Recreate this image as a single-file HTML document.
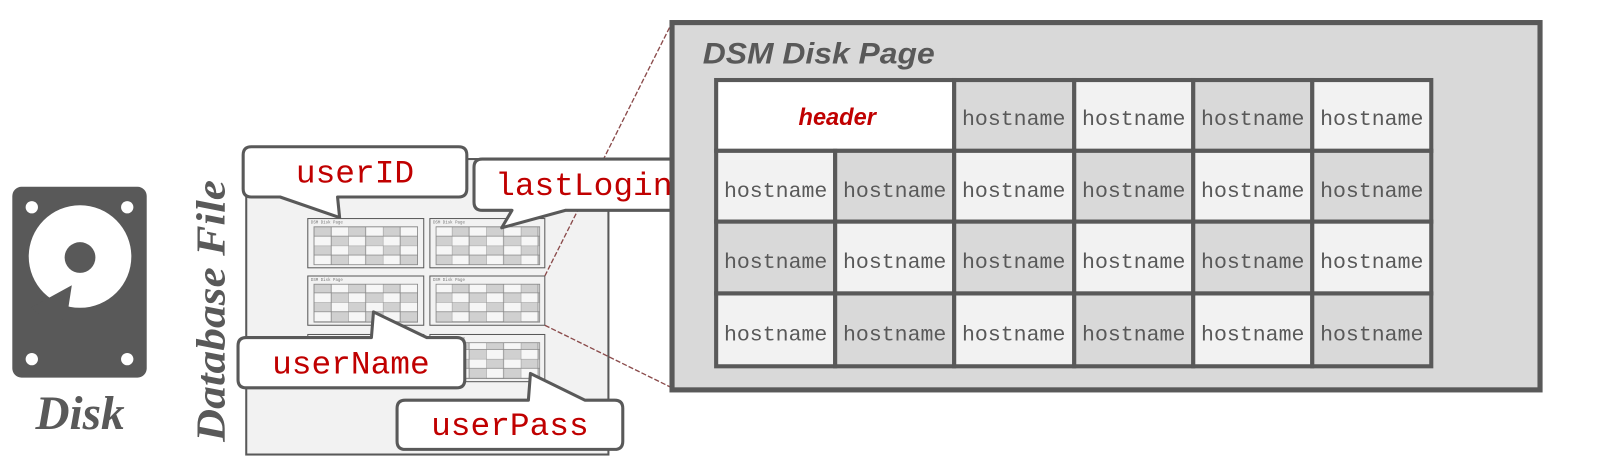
<!DOCTYPE html>
<html><head><meta charset="utf-8"><style>
html,body{margin:0;padding:0;background:#fff;width:1606px;height:461px;overflow:hidden}
svg{display:block}
.h{font-family:"Liberation Mono",monospace;font-size:21px;fill:#595959}
.c{font-family:"Liberation Mono",monospace;font-size:32px;fill:#c00000}
.co{fill:#fff;stroke:#595959;stroke-width:3;stroke-linejoin:round}
</style></head><body>
<svg width="1606" height="461" viewBox="0 0 1565.3 449.3" xmlns="http://www.w3.org/2000/svg">
<defs>
<pattern id="mg" x="306" y="221" width="33.6" height="18.4" patternUnits="userSpaceOnUse">
<rect width="16.8" height="9.2" fill="#d0d0d0"/><rect x="16.8" width="16.8" height="9.2" fill="#f6f6f6"/>
<rect y="9.2" width="16.8" height="9.2" fill="#f6f6f6"/><rect x="16.8" y="9.2" width="16.8" height="9.2" fill="#d0d0d0"/>
<path d="M0,0H33.6M0,9.2H33.6M0,0V18.4M16.8,0V18.4" stroke="#888" stroke-width="0.8" fill="none"/>
</pattern>
</defs>
<!-- disk -->
<rect x="12" y="182" width="131" height="186" rx="9" fill="#595959"/>
<circle cx="31" cy="202" r="6" fill="#fff"/><circle cx="124" cy="202" r="6" fill="#fff"/>
<circle cx="31" cy="350" r="6" fill="#fff"/><circle cx="124" cy="350" r="6" fill="#fff"/>
<circle cx="78" cy="250" r="50" fill="#fff"/>
<circle cx="78" cy="251" r="15" fill="#595959"/>
<polygon points="30,300 70,278 66,304 55,320" fill="#595959"/>
<text x="78" y="418" text-anchor="middle" font-family="Liberation Serif,serif" font-weight="bold" font-style="italic" font-size="46" fill="#595959">Disk</text>
<text transform="translate(219,303) rotate(-90)" text-anchor="middle" font-family="Liberation Serif,serif" font-weight="bold" font-style="italic" font-size="40" fill="#595959" textLength="255" lengthAdjust="spacingAndGlyphs">Database File</text>
<!-- db file -->
<rect x="240" y="155" width="353" height="288" fill="#f2f2f2" stroke="#595959" stroke-width="2"/>
<g fill="#f2f2f2" stroke="#595959" stroke-width="1">
<rect x="300" y="213" width="113" height="48"/><rect x="419" y="213" width="112" height="48"/>
<rect x="300" y="269" width="113" height="48"/><rect x="419" y="269" width="112" height="48"/>
<rect x="300" y="326" width="113" height="46"/><rect x="419" y="326" width="112" height="46"/>
</g>
<g font-family="Liberation Mono,monospace" font-size="4" fill="#777">
<text x="303" y="218">DSM Disk Page</text><text x="422" y="218">DSM Disk Page</text>
<text x="303" y="274">DSM Disk Page</text><text x="422" y="274">DSM Disk Page</text>
<text x="303" y="331">DSM Disk Page</text><text x="422" y="331">DSM Disk Page</text>
</g>
<g fill="url(#mg)" stroke="#888" stroke-width="0.8">
<rect x="306" y="221" width="101" height="37"/><rect x="425" y="221" width="101" height="37"/>
<rect x="306" y="277" width="101" height="37"/><rect x="425" y="277" width="101" height="37"/>
<rect x="306" y="334" width="101" height="35"/><rect x="425" y="334" width="101" height="35"/>
</g>
<line x1="531" y1="269" x2="655" y2="22" stroke="#8a4a4a" stroke-width="1.3" stroke-dasharray="5,2"/>
<line x1="531" y1="317" x2="655" y2="378" stroke="#8a4a4a" stroke-width="1.3" stroke-dasharray="5,2"/>
<!-- callouts -->
<path class="co" d="M245,143 H447 Q455,143 455,151 V184 Q455,192 447,192 H329 L331,212 L273,192 H245 Q237,192 237,184 V151 Q237,143 245,143 Z"/>
<text class="c" x="346" y="178" text-anchor="middle">userID</text>
<path class="co" d="M470,155 H668 Q676,155 676,163 V197 Q676,205 668,205 H551 L489,222 L499,205 H470 Q462,205 462,197 V163 Q462,155 470,155 Z"/>
<text class="c" x="569" y="190" text-anchor="middle">lastLogin</text>
<path class="co" d="M240,329 H362 L364,304 L416,329 H445 Q453,329 453,337 V370 Q453,378 445,378 H240 Q232,378 232,370 V337 Q232,329 240,329 Z"/>
<text class="c" x="342" y="364" text-anchor="middle">userName</text>
<path class="co" d="M395,390 H515 L517,364 L570,390 H599 Q607,390 607,398 V430 Q607,438 599,438 H395 Q387,438 387,430 V398 Q387,390 395,390 Z"/>
<text class="c" x="497" y="424" text-anchor="middle">userPass</text>
<!-- big page -->
<rect x="655" y="22" width="846" height="358" fill="#d9d9d9" stroke="#595959" stroke-width="5"/>
<text x="685" y="62" font-family="Liberation Sans,sans-serif" font-weight="bold" font-style="italic" font-size="29" fill="#595959" textLength="226" lengthAdjust="spacingAndGlyphs">DSM Disk Page</text>
<g stroke="#595959" stroke-width="4">
<rect x="698" y="78" width="232" height="69" fill="#fff"/>
<rect x="930" y="78" width="117" height="69" fill="#d9d9d9"/>
<rect x="1047" y="78" width="116" height="69" fill="#f2f2f2"/>
<rect x="1163" y="78" width="116" height="69" fill="#d9d9d9"/>
<rect x="1279" y="78" width="116" height="69" fill="#f2f2f2"/>
<rect x="698" y="147" width="116" height="69" fill="#f2f2f2"/>
<rect x="814" y="147" width="116" height="69" fill="#d9d9d9"/>
<rect x="930" y="147" width="117" height="69" fill="#f2f2f2"/>
<rect x="1047" y="147" width="116" height="69" fill="#d9d9d9"/>
<rect x="1163" y="147" width="116" height="69" fill="#f2f2f2"/>
<rect x="1279" y="147" width="116" height="69" fill="#d9d9d9"/>
<rect x="698" y="216" width="116" height="70" fill="#d9d9d9"/>
<rect x="814" y="216" width="116" height="70" fill="#f2f2f2"/>
<rect x="930" y="216" width="117" height="70" fill="#d9d9d9"/>
<rect x="1047" y="216" width="116" height="70" fill="#f2f2f2"/>
<rect x="1163" y="216" width="116" height="70" fill="#d9d9d9"/>
<rect x="1279" y="216" width="116" height="70" fill="#f2f2f2"/>
<rect x="698" y="286" width="116" height="71" fill="#f2f2f2"/>
<rect x="814" y="286" width="116" height="71" fill="#d9d9d9"/>
<rect x="930" y="286" width="117" height="71" fill="#f2f2f2"/>
<rect x="1047" y="286" width="116" height="71" fill="#d9d9d9"/>
<rect x="1163" y="286" width="116" height="71" fill="#f2f2f2"/>
<rect x="1279" y="286" width="116" height="71" fill="#d9d9d9"/>
</g>
<text x="816" y="122" text-anchor="middle" font-family="Liberation Sans,sans-serif" font-weight="bold" font-style="italic" font-size="23" fill="#c00000">header</text>
<g class="h" text-anchor="middle">
<text x="988" y="122">hostname</text><text x="1105" y="122">hostname</text><text x="1221" y="122">hostname</text><text x="1337" y="122">hostname</text>
<text x="756" y="192">hostname</text><text x="872" y="192">hostname</text><text x="988" y="192">hostname</text><text x="1105" y="192">hostname</text><text x="1221" y="192">hostname</text><text x="1337" y="192">hostname</text>
<text x="756" y="261">hostname</text><text x="872" y="261">hostname</text><text x="988" y="261">hostname</text><text x="1105" y="261">hostname</text><text x="1221" y="261">hostname</text><text x="1337" y="261">hostname</text>
<text x="756" y="332">hostname</text><text x="872" y="332">hostname</text><text x="988" y="332">hostname</text><text x="1105" y="332">hostname</text><text x="1221" y="332">hostname</text><text x="1337" y="332">hostname</text>
</g>
</svg>
</body></html>
